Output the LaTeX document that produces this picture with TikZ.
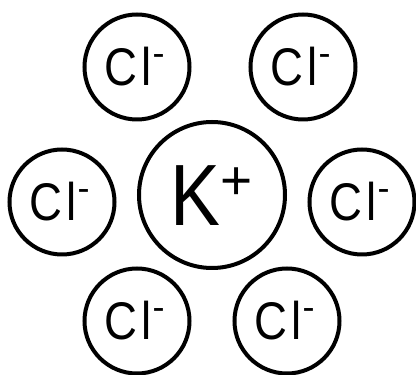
\documentclass[tikz,border=0pt]{standalone}
\usepackage{fontspec}
\setmainfont{Liberation Sans}
\newfontfamily\ionfont[FakeStretch=0.86]{Liberation Sans}
\usepackage{tikz}

\begin{document}
\begin{tikzpicture}[x=1pt,y=1pt,
    ion/.style={circle,draw,line width=4pt,inner sep=0pt},
    anion/.style={ion,minimum size=105pt,text height=38pt,text depth=0pt,
        font=\ionfont\fontsize{53}{53}\selectfont},
    cation/.style={ion,minimum size=146pt,text height=62pt,text depth=0pt,
        font=\ionfont\fontsize{87}{87}\selectfont}]
        \useasboundingbox (0,0) rectangle (416,375);
        % 中心阳离子
        \node [cation] (k) at (212,180) {K\raisebox{26.5pt}{\rmfamily\fontsize{55}{55}\selectfont +}};
        % 周围的阴离子
        \node [anion] (cl1) at (137,308) {C\kern4pt l\kern1pt\raisebox{20pt}{\rmfamily\fontsize{36}{36}\selectfont -}\kern5pt};
        \node [anion] (cl2) at (303,308) {C\kern4pt l\kern1pt\raisebox{20pt}{\rmfamily\fontsize{36}{36}\selectfont -}\kern5pt};
        \node [anion] (cl3) at (62,173) {C\kern4pt l\kern1pt\raisebox{20pt}{\rmfamily\fontsize{36}{36}\selectfont -}\kern5pt};
        \node [anion] (cl4) at (362,173) {C\kern4pt l\kern1pt\raisebox{20pt}{\rmfamily\fontsize{36}{36}\selectfont -}\kern5pt};
        \node [anion] (cl5) at (137,54) {C\kern4pt l\kern1pt\raisebox{20pt}{\rmfamily\fontsize{36}{36}\selectfont -}\kern5pt};
        \node [anion] (cl6) at (287,54) {C\kern4pt l\kern1pt\raisebox{20pt}{\rmfamily\fontsize{36}{36}\selectfont -}\kern5pt};
    \end{tikzpicture}
\end{document}
